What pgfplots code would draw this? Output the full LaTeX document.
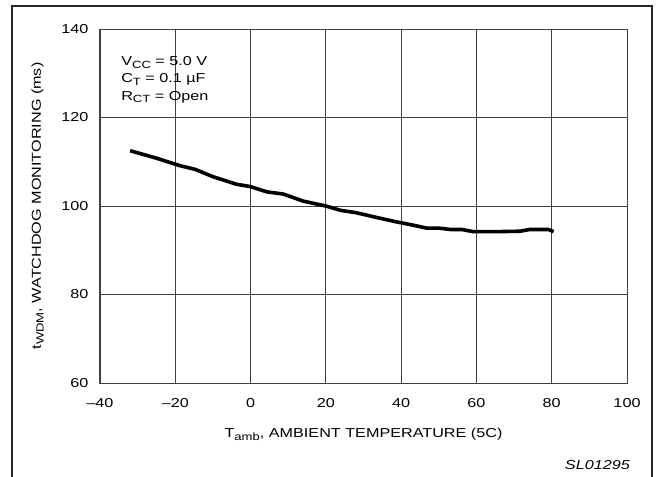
\documentclass[border=0pt]{standalone}
\usepackage{pgfplots}
\pgfplotsset{compat=1.18}
\usepackage{fontspec}
\setmainfont{Liberation Sans}[FakeStretch=1.25]
\usetikzlibrary{calc}
\newcommand{\sub}[1]{\raisebox{-0.22em}{\fontsize{10.5}{12}\selectfont #1}}

\begin{document}
\fontsize{13}{16}\selectfont
\begin{tikzpicture}
  \begin{axis}[
    name=ax,
    scale only axis,
    width=527bp, height=354bp,
    xmin=-40, xmax=100,
    ymin=60, ymax=140,
    xtick={-40,-20,0,20,40,60,80,100},
    xticklabels={\textendash40,\textendash20,0,20,40,60,80,100},
    ytick={60,80,100,120,140},
    major tick length=0pt,
    grid=major,
    grid style={black!75, line width=0.9bp},
    axis line style={black!75, line width=1bp},
    tick label style={font=\fontsize{13}{16}\selectfont},
    /pgf/number format/assume math mode=true,
    xticklabel style={yshift=-11bp},
    yticklabel style={xshift=-7bp},
    xlabel={T\sub{amb}, AMBIENT TEMPERATURE (5C)},
    ylabel={t\sub{WDM}, WATCHDOG MONITORING (ms)},
    label style={font=\fontsize{13}{16}\selectfont},
    xlabel style={yshift=-12bp},
    ylabel style={yshift=9bp},
    clip=false,
  ]
    \addplot[black, line width=3.6bp, line join=round] coordinates {
      (-32, 112.5) (-25, 110.8) (-18.7, 109.1) (-14.8, 108.3) (-9.9, 106.6)
      (-3.7, 104.9) (-0.1, 104.4) (4.3, 103.2) (8.7, 102.7) (14, 101.1)
      (20, 100.0) (24, 99.0) (28, 98.5) (33, 97.5) (38.8, 96.4)
      (43, 95.7) (46.8, 95.0) (50, 95.0) (53, 94.7) (56, 94.7)
      (59.2, 94.2) (65, 94.2) (71.6, 94.3) (74.2, 94.7) (79.1, 94.7) (80.5, 94.2)
    };
    \node[anchor=north west, align=left, inner sep=0pt, font=\fontsize{13}{17.5}\selectfont]
      at (axis cs:-34.4,133.9) {V\sub{CC} = 5.0 V\\C\sub{T} = 0.1 µF\\R\sub{CT} = Open};
  \end{axis}
  \path[use as bounding box] ($(ax.south west)+(-100bp,-94bp)$) rectangle ($(ax.south west)+(556bp,383bp)$);
  \draw[line width=2bp, black!85]
    ($(ax.south west)+(-88bp,-95bp)$) -- ($(ax.south west)+(-88bp,377bp)$)
    -- ($(ax.south west)+(552bp,377bp)$) -- ($(ax.south west)+(552bp,-95bp)$);
  \node[anchor=base east, inner sep=0pt, font=\itshape\fontsize{13}{16}\selectfont]
    at ($(ax.south west)+(530bp,-86bp)$) {SL01295};
\end{tikzpicture}
\end{document}
